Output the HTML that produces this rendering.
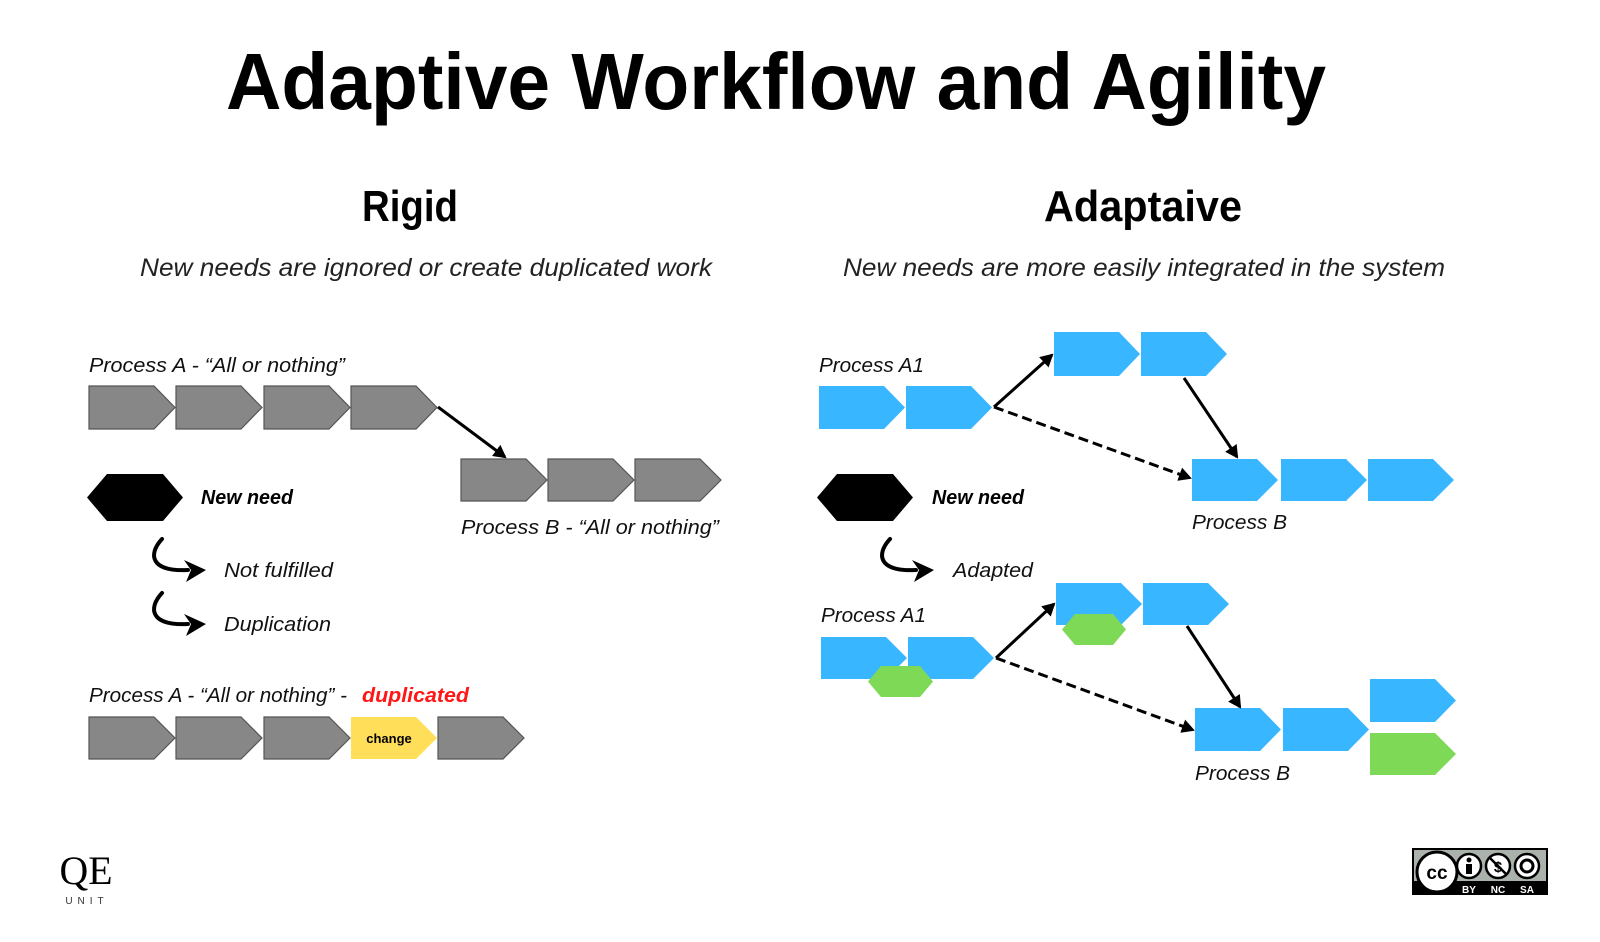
<!DOCTYPE html>
<html><head><meta charset="utf-8"><style>html,body{margin:0;padding:0;background:#fff}svg{display:block}</style></head>
<body>
<svg width="1600" height="942" viewBox="0 0 1600 942" xmlns="http://www.w3.org/2000/svg" font-family="Liberation Sans, sans-serif">
<defs>
<marker id="ah" markerWidth="14" markerHeight="14" refX="11" refY="7" orient="auto" markerUnits="userSpaceOnUse"><path d="M0,0 L13,7 L0,14 z" fill="#000"/></marker>
<marker id="ah2" markerWidth="14" markerHeight="14" refX="11" refY="7" orient="auto" markerUnits="userSpaceOnUse"><path d="M0,0 L13,7 L0,14 z" fill="#000"/></marker>
</defs>
<rect width="1600" height="942" fill="#fff"/>
<text x="226" y="109" font-size="80" font-weight="bold" textLength="1100" lengthAdjust="spacingAndGlyphs">Adaptive Workflow and Agility</text>
<text x="362" y="221" font-size="44" font-weight="bold" textLength="96" lengthAdjust="spacingAndGlyphs">Rigid</text>
<text x="1044" y="221" font-size="44" font-weight="bold" textLength="198" lengthAdjust="spacingAndGlyphs">Adaptaive</text>
<text x="140" y="276" font-size="25" font-style="italic" fill="#222" textLength="572" lengthAdjust="spacingAndGlyphs">New needs are ignored or create duplicated work</text>
<text x="843" y="276" font-size="25" font-style="italic" fill="#222" textLength="602" lengthAdjust="spacingAndGlyphs">New needs are more easily integrated in the system</text>

<g transform="translate(0,-2)">
<g font-size="20" font-style="italic" fill="#111">
<text x="89" y="374" textLength="256" lengthAdjust="spacingAndGlyphs">Process A - “All or nothing”</text>
<text x="461" y="536" textLength="258" lengthAdjust="spacingAndGlyphs">Process B - “All or nothing”</text>
<text x="224" y="579" textLength="109" lengthAdjust="spacingAndGlyphs">Not fulfilled</text>
<text x="224" y="633" textLength="107" lengthAdjust="spacingAndGlyphs">Duplication</text>
<text x="89" y="704" textLength="258" lengthAdjust="spacingAndGlyphs">Process A - “All or nothing” - </text>
</g>
<text x="362" y="704" font-size="20" font-style="italic" fill="#ff1616" font-weight="bold" textLength="107" lengthAdjust="spacingAndGlyphs">duplicated</text>
<text x="201" y="506" font-size="20" font-style="italic" font-weight="bold" textLength="92" lengthAdjust="spacingAndGlyphs">New need</text>

<g fill="#878787" stroke="#555" stroke-width="1.2">
<path d="M89,388h65l21,21.5l-21,21.5h-65z"/>
<path d="M176,388h65l21,21.5l-21,21.5h-65z"/>
<path d="M264,388h65l21,21.5l-21,21.5h-65z"/>
<path d="M351,388h65l21,21.5l-21,21.5h-65z"/>
<path d="M461,461h65l21,21l-21,21h-65z"/>
<path d="M548,461h65l21,21l-21,21h-65z"/>
<path d="M635,461h65l21,21l-21,21h-65z"/>
<path d="M89,719h65l21,21l-21,21h-65z"/>
<path d="M176,719h65l21,21l-21,21h-65z"/>
<path d="M264,719h65l21,21l-21,21h-65z"/>
<path d="M438,719h65l21,21l-21,21h-65z"/>
</g>
<path d="M351,719h65l21,21l-21,21h-65z" fill="#ffde59"/>
<text x="389" y="745" font-size="13" font-weight="bold" text-anchor="middle">change</text>
<line x1="438" y1="409" x2="505" y2="459" stroke="#000" stroke-width="3" marker-end="url(#ah2)"/>
<path d="M87,499.5L107,476h56l20,23.5l-20,23.5h-56z" fill="#000"/>
<g fill="none" stroke="#000" stroke-width="4" stroke-linecap="round">
<path d="M162,541 C148,556 150,574 188,572"/>
<path d="M162,595 C148,610 150,628 188,626"/>
</g>
<g fill="#000">
<path d="M184,562 L206,572 L186,584 L191,572z"/>
<path d="M184,616 L206,626 L186,638 L191,626z"/>
</g>
</g>

<g transform="translate(-6,-2)">
<g font-size="20" font-style="italic" fill="#111">
<text x="825" y="374" textLength="105" lengthAdjust="spacingAndGlyphs">Process A1</text>
<text x="1198" y="531" textLength="95" lengthAdjust="spacingAndGlyphs">Process B</text>
<text x="959" y="579" textLength="80" lengthAdjust="spacingAndGlyphs">Adapted</text>
<text x="827" y="624" textLength="105" lengthAdjust="spacingAndGlyphs">Process A1</text>
<text x="1201" y="782" textLength="95" lengthAdjust="spacingAndGlyphs">Process B</text>
</g>
<text x="938" y="506" font-size="20" font-style="italic" font-weight="bold" textLength="92" lengthAdjust="spacingAndGlyphs">New need</text>
<path d="M823,499.5L843,476h56l20,23.5l-20,23.5h-56z" fill="#000"/>
<path d="M896,541 C882,556 884,574 922,572" fill="none" stroke="#000" stroke-width="4" stroke-linecap="round"/>
<path d="M918,562 L940,572 L920,584 L925,572z" fill="#000"/>

<g fill="#38b6ff">
<path d="M825,388h65l21,21.5l-21,21.5h-65z"/>
<path d="M912,388h65l21,21.5l-21,21.5h-65z"/>
<path d="M1060,334h65l21,22l-21,22h-65z"/>
<path d="M1147,334h65l21,22l-21,22h-65z"/>
<path d="M1198,461h65l21,21l-21,21h-65z"/>
<path d="M1287,461h65l21,21l-21,21h-65z"/>
<path d="M1374,461h65l21,21l-21,21h-65z"/>
<path d="M827,639h65l21,21l-21,21h-65z"/>
<path d="M914,639h65l21,21l-21,21h-65z"/>
<path d="M1062,585h65l21,21l-21,21h-65z"/>
<path d="M1149,585h65l21,21l-21,21h-65z"/>
<path d="M1201,710h65l21,21.5l-21,21.5h-65z"/>
<path d="M1289,710h65l21,21.5l-21,21.5h-65z"/>
<path d="M1376,681h65l21,21.5l-21,21.5h-65z"/>
</g>
<path d="M1376,735h65l21,21l-21,21h-65z" fill="#7ed957"/>
<path d="M874,683.5L887,668h39l13,15.5l-13,15.5h-39z" fill="#7ed957"/>
<path d="M1068,631.5L1081,616h38l13,15.5l-13,15.5h-38z" fill="#7ed957"/>

<g stroke="#000" stroke-width="3">
<line x1="1000" y1="409" x2="1058" y2="357" marker-end="url(#ah)"/>
<line x1="1000" y1="409" x2="1196" y2="480" stroke-dasharray="10,5" marker-end="url(#ah)"/>
<line x1="1190" y1="380" x2="1243" y2="459" marker-end="url(#ah)"/>
<line x1="1002" y1="660" x2="1060" y2="606" marker-end="url(#ah)"/>
<line x1="1002" y1="660" x2="1199" y2="732" stroke-dasharray="10,5" marker-end="url(#ah)"/>
<line x1="1193" y1="628" x2="1246" y2="709" marker-end="url(#ah)"/>
</g>
</g>

<text x="86" y="884" font-family="Liberation Serif, serif" font-size="40" text-anchor="middle" textLength="53" lengthAdjust="spacingAndGlyphs">QE</text>
<text x="87" y="904" font-size="10" text-anchor="middle" letter-spacing="5" fill="#333">UNIT</text>

<rect x="1412" y="848" width="136" height="47" fill="#000"/>
<rect x="1414" y="850" width="132" height="31" fill="#aab2ab"/>
<circle cx="1437" cy="872" r="20" fill="#fff" stroke="#000" stroke-width="3"/>
<text x="1437" y="879" font-size="19" font-weight="bold" text-anchor="middle">cc</text>
<g fill="#fff" stroke="#000" stroke-width="2.5">
<circle cx="1469" cy="866" r="12"/><circle cx="1498" cy="866" r="12"/><circle cx="1527" cy="866" r="12"/>
</g>
<circle cx="1469" cy="860" r="2.5"/><rect x="1466" y="864" width="6" height="10"/>
<text x="1498" y="872" font-size="15" font-weight="bold" text-anchor="middle">$</text>
<line x1="1489" y1="857" x2="1507" y2="875" stroke="#000" stroke-width="2.5"/>
<circle cx="1527" cy="866" r="6" fill="none" stroke="#000" stroke-width="3"/>
<g fill="#fff" font-size="10" font-weight="bold" text-anchor="middle">
<text x="1469" y="893">BY</text><text x="1498" y="893">NC</text><text x="1527" y="893">SA</text>
</g>
</svg>
</body></html>
